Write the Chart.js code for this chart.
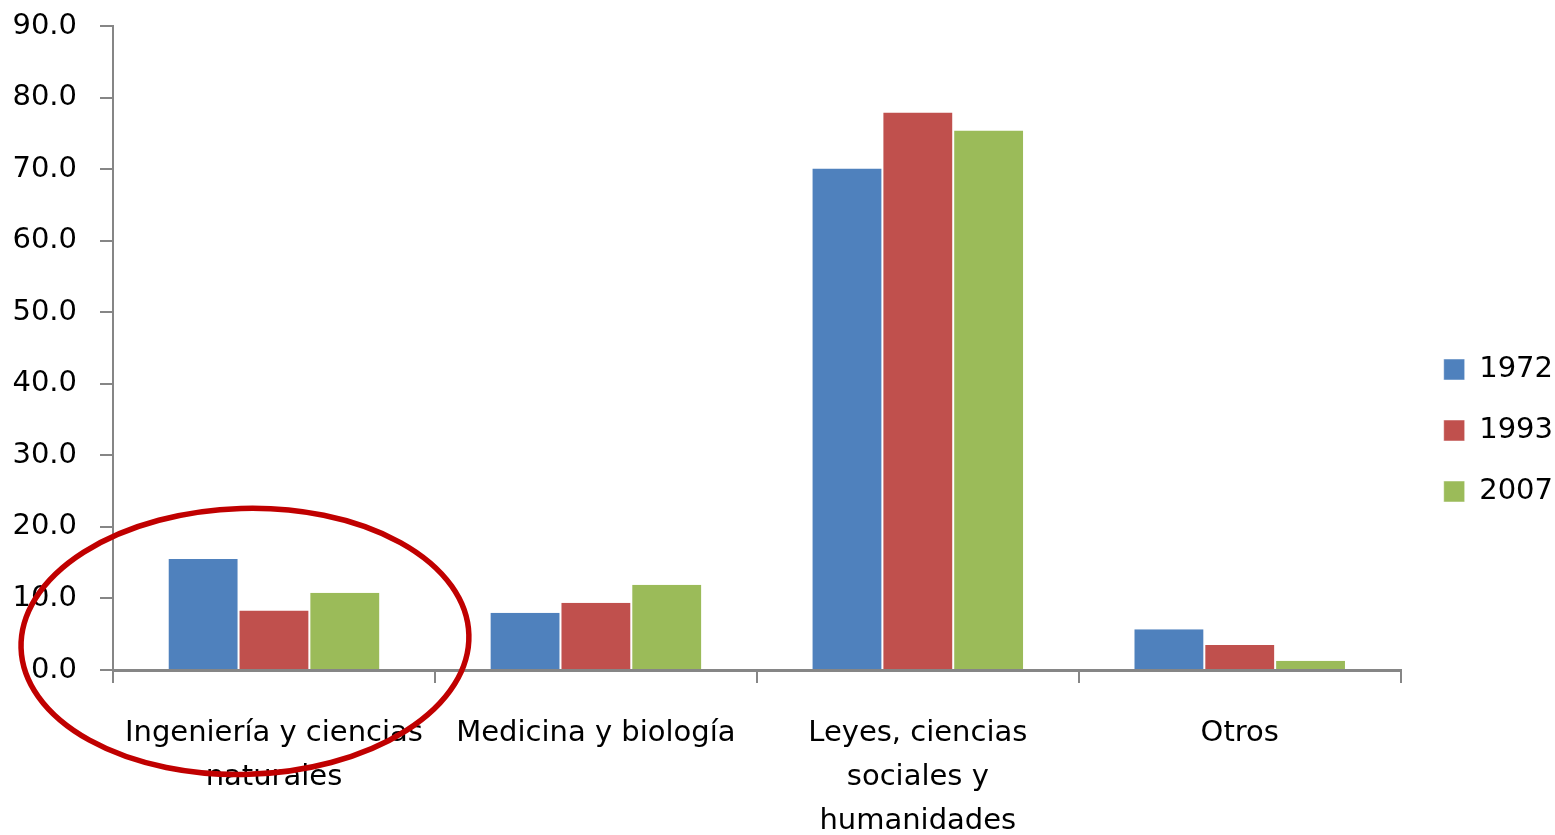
<!DOCTYPE html>
<html>
<head>
<meta charset="utf-8">
<script src="https://cdn.jsdelivr.net/npm/chart.js@4/dist/chart.umd.min.js"></script>
<style>
  html, body { margin: 0; padding: 0; background: #ffffff; }
  #wrap { width: 1555px; height: 835px; }
</style>
</head>
<body>
<div id="wrap"><canvas id="chart" width="1555" height="835"></canvas></div>
<script>
// Areas of study (multi-line labels)
const categories = [
  ['Ingeniería y ciencias', 'naturales'],
  'Medicina y biología',
  ['Leyes, ciencias', 'sociales y', 'humanidades'],
  'Otros'
];
const years = ['1972', '1993', '2007'];
const values1972 = [15.5, 8.0, 70.1, 5.7];
const values1993 = [8.3, 9.4, 77.9, 3.5];
const values2007 = [10.8, 11.9, 75.4, 1.3];
const seriesColors = ['#4F81BD', '#C0504D', '#9BBB59'];
const yTicks = [0, 10, 20, 30, 40, 50, 60, 70, 80, 90];

const FONT = { family: '"DejaVu Sans", sans-serif', size: 29 };
const AXIS_GREY = '#868686';

// Red ellipse circling the first group of bars
const highlightRing = {
  id: 'highlightRing',
  afterDraw(chart) {
    const x = chart.scales.x, y = chart.scales.y;
    const cx = x.getPixelForValue(0) - 29;
    const cy = y.getPixelForValue(4);
    const ctx = chart.ctx;
    ctx.save();
    ctx.beginPath();
    ctx.ellipse(cx, cy, 224, 133, -0.03, 0, Math.PI * 2);
    ctx.strokeStyle = '#C00000';
    ctx.lineWidth = 5.5;
    ctx.stroke();
    ctx.restore();
  }
};

const seriesValues = [values1972, values1993, values2007];
const datasets = years.map((yr, i) => ({
  label: yr,
  data: seriesValues[i],
  backgroundColor: seriesColors[i],
  borderColor: '#ffffff',
  borderWidth: { left: 1, right: 1, top: 0, bottom: 0 },
  borderSkipped: false,
  categoryPercentage: 0.66,
  barPercentage: 1.0
}));

new Chart(document.getElementById('chart'), {
  type: 'bar',
  data: { labels: categories, datasets },
  options: {
    responsive: false,
    animation: false,
    devicePixelRatio: 1,
    layout: { padding: { top: 26, right: -8, bottom: 0, left: 0 } },
    plugins: {
      legend: {
        position: 'right',
        align: 'center',
        labels: {
          boxWidth: 21,
          boxHeight: 21,
          padding: 32,
          color: '#000000',
          font: FONT
        }
      },
      tooltip: { enabled: false }
    },
    scales: {
      x: {
        grid: {
          display: true,
          offset: true,
          drawOnChartArea: false,
          drawTicks: true,
          tickLength: 13,
          color: AXIS_GREY,
          lineWidth: 2
        },
        border: { display: true, color: AXIS_GREY, width: 3 },
        ticks: {
          color: '#000000',
          font: Object.assign({ lineHeight: 1.52 }, FONT),
          padding: 28,
          maxRotation: 0,
          autoSkip: false
        },
        afterFit(scale) { scale.height = 165; }
      },
      y: {
        min: 0,
        max: 90,
        afterBuildTicks(scale) { scale.ticks = yTicks.map(v => ({ value: v })); },
        grid: {
          display: true,
          drawOnChartArea: false,
          drawTicks: true,
          tickLength: 13,
          color: AXIS_GREY,
          lineWidth: 2
        },
        border: { display: true, color: AXIS_GREY, width: 2 },
        ticks: {
          color: '#000000',
          font: FONT,
          padding: 23,
          callback: v => Number(v).toFixed(1)
        },
        afterFit(scale) {
          scale.width = 113;
          // the top label may sit in the layout padding
          scale.paddingTop = 0;
          scale.paddingBottom = 0;
        }
      },
      // narrow blank strip between the plot and the legend
      gap: {
        type: 'linear',
        position: 'right',
        display: true,
        grid: { display: false },
        border: { display: false },
        ticks: { display: false },
        afterFit(scale) { scale.width = 11; }
      }
    }
  },
  plugins: [highlightRing]
});
</script>
</body>
</html>
